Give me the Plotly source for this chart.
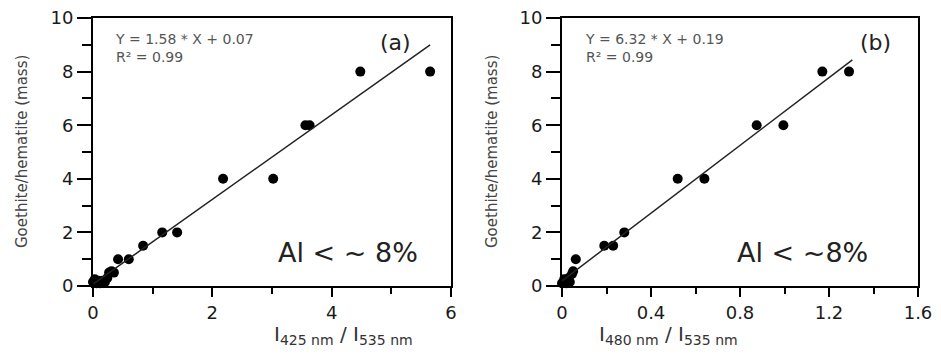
import plotly.graph_objects as go

# ---- data ----
a_x = [0.0, 0.03, 0.06, 0.09, 0.12, 0.16, 0.2, 0.24, 0.27, 0.31, 0.35, 0.42, 0.6, 0.84, 1.16, 1.41, 2.18, 3.02, 3.56, 3.63, 4.48, 5.65]
a_y = [0.15, 0.25, 0.1, 0.2, 0.1, 0.2, 0.15, 0.3, 0.5, 0.55, 0.5, 1.0, 1.0, 1.5, 2.0, 2.0, 4.0, 4.0, 6.0, 6.0, 8.0, 8.0]
b_x = [0.0, 0.01, 0.02, 0.03, 0.035, 0.045, 0.05, 0.062, 0.19, 0.23, 0.28, 0.52, 0.64, 0.875, 0.995, 1.17, 1.29]
b_y = [0.1, 0.25, 0.1, 0.3, 0.15, 0.45, 0.55, 1.0, 1.5, 1.5, 2.0, 4.0, 4.0, 6.0, 6.0, 8.0, 8.0]

fit_a = dict(slope=1.58, intercept=0.07, x0=0.0, x1=5.65, eq="Y = 1.58 * X + 0.07", r2="R² = 0.99")
fit_b = dict(slope=6.32, intercept=0.19, x0=0.0, x1=1.305, eq="Y = 6.32 * X + 0.19", r2="R² = 0.99")

x_ticks_a = [0, 2, 4, 6]
x_ticks_b = [0, 0.4, 0.8, 1.2, 1.6]
x_ticklabels_b = ["0", "0.4", "0.8", "1.2", "1.6"]
y_ticks = [0, 2, 4, 6, 8, 10]

panel_labels = ["(a)", "(b)"]
al_labels = ["Al < ~ 8%", "Al < ~8%"]
x_titles = ["I<sub>425 nm</sub> / I<sub>535 nm</sub>", "I<sub>480 nm</sub> / I<sub>535 nm</sub>"]
y_title = "Goethite/hematite (mass)"

FONT = "DejaVu Sans"
OFF = 8                      # page body margin offset
W, H = 941 - OFF, 356 - OFF  # figure size inside the page
TOP_PX, BOT_PX = 18 - OFF, 286 - OFF
T, B = TOP_PX, H - BOT_PX
fig = go.Figure()

# scatter points
fig.add_trace(go.Scatter(x=a_x, y=a_y, mode="markers", xaxis="x", yaxis="y",
                         marker=dict(color="black", size=10), cliponaxis=False, showlegend=False))
fig.add_trace(go.Scatter(x=b_x, y=b_y, mode="markers", xaxis="x2", yaxis="y2",
                         marker=dict(color="black", size=10), cliponaxis=False, showlegend=False))

# fit lines
for fit, xa, ya in [(fit_a, "x", "y"), (fit_b, "x2", "y2")]:
    xs = [fit["x0"], fit["x1"]]
    ys = [fit["slope"] * v + fit["intercept"] for v in xs]
    fig.add_trace(go.Scatter(x=xs, y=ys, mode="lines", xaxis=xa, yaxis=ya,
                             line=dict(color="#222", width=1.5), showlegend=False))

axis_common = dict(showline=True, linecolor="black", linewidth=2, mirror=True,
                   showgrid=False, zeroline=False, ticks="outside", tickwidth=2,
                   automargin=False, ticklabeloverflow="allow",
                   tickcolor="black", tickfont=dict(family=FONT, size=18, color="#1a1a1a"))

xdom_a = [(93 - OFF) / W, (451 - OFF) / W]
xdom_b = [(562 - OFF) / W, (918 - OFF) / W]

fig.update_layout(
    width=W, height=H,
    margin=dict(l=0, r=0, t=T, b=B),
    paper_bgcolor="white", plot_bgcolor="white",
    xaxis=dict(domain=xdom_a, range=[0, 6], tickvals=x_ticks_a, ticklen=9,
               minor=dict(dtick=1, ticklen=6, tickwidth=2, ticks="outside", tickcolor="black"),
               anchor="y", **axis_common),
    yaxis=dict(domain=[0, 1], range=[0, 10], tickvals=y_ticks, ticklen=14,
               minor=dict(dtick=1, ticklen=9, tickwidth=2, ticks="outside", tickcolor="black"),
               anchor="x", **axis_common),
    xaxis2=dict(domain=xdom_b, range=[0, 1.6], tickvals=x_ticks_b, ticktext=x_ticklabels_b, ticklen=9,
                minor=dict(dtick=0.2, ticklen=6, tickwidth=2, ticks="outside", tickcolor="black"),
                anchor="y2", **axis_common),
    yaxis2=dict(domain=[0, 1], range=[0, 10], tickvals=y_ticks, ticklen=14,
                minor=dict(dtick=1, ticklen=9, tickwidth=2, ticks="outside", tickcolor="black"),
                anchor="x2", **axis_common),
)

plot_h = H - T - B
def py2paper(py):
    return (BOT_PX - (py - OFF)) / plot_h

def px2paper(px):
    return (px - OFF) / W

annotations = []
for i, (fit, xr, yr, dom) in enumerate([(fit_a, "x", "y", xdom_a), (fit_b, "x2", "y2", xdom_b)]):
    xmax = 6 if i == 0 else 1.6
    def px2x(px, dom=dom, xmax=xmax):
        return (px2paper(px) - dom[0]) / (dom[1] - dom[0]) * xmax
    # equation
    annotations.append(dict(x=px2x(113 if i == 0 else 583), y=9.6, xref=xr, yref=yr,
                            text=fit["eq"] + "<br>" + fit["r2"], showarrow=False,
                            xanchor="left", yanchor="top", align="left",
                            font=dict(family=FONT, size=14, color="#555")))
    # panel label
    annotations.append(dict(x=px2x(395 if i == 0 else 875), y=9.1, xref=xr, yref=yr,
                            text=panel_labels[i], showarrow=False,
                            font=dict(family=FONT, size=22, color="#222")))
    # Al text
    annotations.append(dict(x=px2x(348 if i == 0 else 802), y=1.25, xref=xr, yref=yr,
                            text=al_labels[i], showarrow=False,
                            font=dict(family=FONT, size=27, color="#222")))
    # x title
    annotations.append(dict(x=(dom[0] + dom[1]) / 2, y=py2paper(335), xref="paper", yref="paper",
                            text=x_titles[i], showarrow=False, yanchor="middle",
                            font=dict(family=FONT, size=20, color="#333")))
    # y title
    annotations.append(dict(x=px2paper(22 if i == 0 else 492), y=0.5, xref="paper", yref="paper",
                            text=y_title, showarrow=False, textangle=-90,
                            xanchor="center", yanchor="middle",
                            font=dict(family=FONT, size=15, color="#444")))

fig.update_layout(annotations=annotations)
fig.write_html("out.html")
